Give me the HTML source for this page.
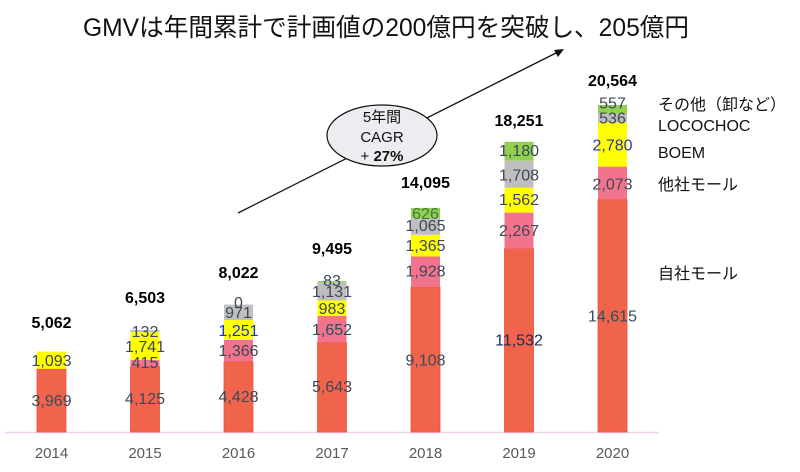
<!DOCTYPE html>
<html>
<head>
<meta charset="utf-8">
<style>
  html,body{margin:0;padding:0;background:#fff;}
  svg{display:block;}
  .v{font-family:"Liberation Sans","Noto Sans CJK JP",sans-serif;font-size:16px;fill:#3d4858;text-anchor:middle;}
  .t{font-family:"Liberation Sans",sans-serif;font-size:16px;font-weight:bold;fill:#000;text-anchor:middle;}
  .y{font-family:"Liberation Sans",sans-serif;font-size:15px;fill:#595959;text-anchor:middle;}
  .lg{font-family:"Liberation Sans","Noto Sans CJK JP",sans-serif;font-size:16px;fill:#111;}
  .e{font-family:"Liberation Sans","Noto Sans CJK JP",sans-serif;font-size:15px;fill:#111;text-anchor:middle;}
</style>
</head>
<body>
<svg width="800" height="472" viewBox="0 0 800 472" xmlns="http://www.w3.org/2000/svg">
  <!-- title -->
  <text x="83" y="36" font-family="'Liberation Sans','Noto Sans CJK JP',sans-serif" font-size="25" fill="#111" textLength="606" lengthAdjust="spacingAndGlyphs">GMVは年間累計で計画値の200億円を突破し、205億円</text>

  <!-- axis -->
  <line x1="5" y1="432.5" x2="659" y2="432.5" stroke="#ecd2ec" stroke-width="1.5"/>

  <!-- arrow -->
  <line x1="238" y1="213" x2="558" y2="52" stroke="#111" stroke-width="1.3"/>
  <polygon points="564,49 554,50 558,57" fill="#111"/>

  <g stroke-width="0.8">
  <!-- 2014 -->
  <rect x="37" y="368.9" width="29" height="63.1" fill="#f0644c" stroke="#f4503c"/>
  <rect x="37" y="351.5" width="29" height="17.4" fill="#ffff00"/>
  <!-- 2015 -->
  <rect x="130.5" y="366.4" width="29" height="65.6" fill="#f0644c" stroke="#f4503c"/>
  <rect x="130.5" y="359.8" width="29" height="6.6" fill="#f2748c"/>
  <rect x="130.5" y="332.1" width="29" height="27.7" fill="#ffff00"/>
  <rect x="130.5" y="330.0" width="29" height="2.1" fill="#bfbfbf"/>
  <!-- 2016 -->
  <rect x="224" y="361.6" width="29" height="70.4" fill="#f0644c" stroke="#f4503c"/>
  <rect x="224" y="339.9" width="29" height="21.7" fill="#f2748c"/>
  <rect x="224" y="320.0" width="29" height="19.9" fill="#ffff00"/>
  <rect x="224" y="304.6" width="29" height="15.4" fill="#bfbfbf"/>
  <!-- 2017 -->
  <rect x="317.5" y="342.3" width="29" height="89.7" fill="#f0644c" stroke="#f4503c"/>
  <rect x="317.5" y="316.0" width="29" height="26.3" fill="#f2748c"/>
  <rect x="317.5" y="300.4" width="29" height="15.6" fill="#ffff00"/>
  <rect x="317.5" y="282.4" width="29" height="18.0" fill="#bfbfbf"/>
  <rect x="317.5" y="281.1" width="29" height="1.3" fill="#92d050"/>
  <!-- 2018 -->
  <rect x="411" y="287.2" width="29" height="144.8" fill="#f0644c" stroke="#f4503c"/>
  <rect x="411" y="256.5" width="29" height="30.7" fill="#f2748c"/>
  <rect x="411" y="234.8" width="29" height="21.7" fill="#ffff00"/>
  <rect x="411" y="217.9" width="29" height="16.9" fill="#bfbfbf"/>
  <rect x="411" y="207.9" width="29" height="10.0" fill="#92d050"/>
  <!-- 2019 -->
  <rect x="504.5" y="248.6" width="29" height="183.4" fill="#f0644c" stroke="#f4503c"/>
  <rect x="504.5" y="212.6" width="29" height="36.0" fill="#f2748c"/>
  <rect x="504.5" y="187.8" width="29" height="24.8" fill="#ffff00"/>
  <rect x="504.5" y="160.6" width="29" height="27.2" fill="#bfbfbf"/>
  <rect x="504.5" y="141.8" width="29" height="18.8" fill="#92d050"/>
  <!-- 2020 -->
  <rect x="598" y="199.6" width="29" height="232.4" fill="#f0644c" stroke="#f4503c"/>
  <rect x="598" y="166.6" width="29" height="33.0" fill="#f2748c"/>
  <rect x="598" y="122.4" width="29" height="44.2" fill="#ffff00"/>
  <rect x="598" y="113.9" width="29" height="8.5" fill="#bfbfbf"/>
  <rect x="598" y="105.0" width="29" height="8.9" fill="#92d050"/>
  </g>

  <!-- segment labels -->
  <text class="v" x="51.5" y="406">3,969</text>
  <text class="v" x="51.5" y="366">1,093</text>

  <text class="v" x="145" y="404">4,125</text>
  <text class="v" x="145" y="368">415</text>
  <text class="v" x="145" y="352">1,741</text>
  <text class="v" x="145" y="337">132</text>

  <text class="v" x="238.5" y="402">4,428</text>
  <text class="v" x="238.5" y="356">1,366</text>
  <text class="v" x="238.5" y="336" style="fill:#1a2fc8">1,251</text>
  <text class="v" x="238.5" y="318">971</text>
  <text class="v" x="238.5" y="308">0</text>

  <text class="v" x="332" y="392">5,643</text>
  <text class="v" x="332" y="335" style="fill:#2a5060">1,652</text>
  <text class="v" x="332" y="314">983</text>
  <text class="v" x="332" y="297">1,131</text>
  <text class="v" x="332" y="286">83</text>

  <text class="v" x="425.5" y="365.5">9,108</text>
  <text class="v" x="425.5" y="276.5">1,928</text>
  <text class="v" x="425.5" y="251">1,365</text>
  <text class="v" x="425.5" y="231">1,065</text>
  <text class="v" x="425.5" y="219" style="fill:#3e7a40">626</text>

  <text class="v" x="519" y="345.5" style="fill:#1c2a58">11,532</text>
  <text class="v" x="519" y="236">2,267</text>
  <text class="v" x="519" y="205">1,562</text>
  <text class="v" x="519" y="180.5">1,708</text>
  <text class="v" x="519" y="156">1,180</text>

  <text class="v" x="612.5" y="321.5" style="fill:#2a5060">14,615</text>
  <text class="v" x="612.5" y="189.5">2,073</text>
  <text class="v" x="612.5" y="150.5" style="fill:#2a3aa0">2,780</text>
  <text class="v" x="612.5" y="123.5">536</text>
  <text class="v" x="612.5" y="108.5">557</text>

  <!-- totals -->
  <text class="t" x="51.5" y="328">5,062</text>
  <text class="t" x="145" y="303">6,503</text>
  <text class="t" x="238.5" y="278">8,022</text>
  <text class="t" x="332" y="254">9,495</text>
  <text class="t" x="425.5" y="188">14,095</text>
  <text class="t" x="519" y="126">18,251</text>
  <text class="t" x="612.5" y="86">20,564</text>

  <!-- years -->
  <text class="y" x="51.5" y="458">2014</text>
  <text class="y" x="145" y="458">2015</text>
  <text class="y" x="238.5" y="458">2016</text>
  <text class="y" x="332" y="458">2017</text>
  <text class="y" x="425.5" y="458">2018</text>
  <text class="y" x="519" y="458">2019</text>
  <text class="y" x="612.5" y="458">2020</text>

  <!-- ellipse -->
  <ellipse cx="382" cy="135.5" rx="55" ry="30.5" fill="#ededf1" stroke="#111" stroke-width="1.2"/>
  <text class="e" x="382" y="122">5年間</text>
  <text class="e" x="382" y="142">CAGR</text>
  <text class="e" x="382" y="161">+ <tspan font-weight="bold">27%</tspan></text>

  <!-- legend -->
  <text class="lg" x="658" y="110">その他（卸など）</text>
  <text class="lg" x="658" y="131">LOCOCHOC</text>
  <text class="lg" x="658" y="158">BOEM</text>
  <text class="lg" x="658" y="190">他社モール</text>
  <text class="lg" x="658" y="279">自社モール</text>
</svg>
</body>
</html>
